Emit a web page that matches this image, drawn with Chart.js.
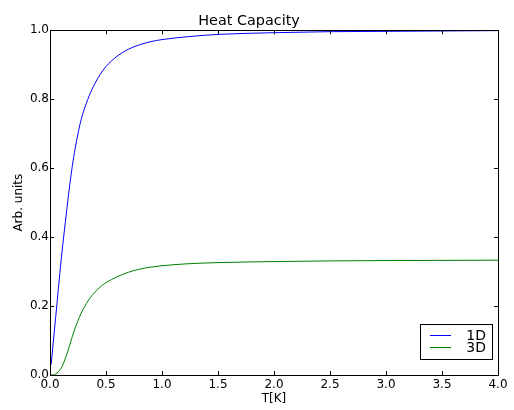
<!DOCTYPE html>
<html>
<head>
<meta charset="utf-8">
<script src="https://cdn.jsdelivr.net/npm/chart.js@4"></script>
<style>
  html, body { margin: 0; padding: 0; background: #ffffff; }
  #wrap { width: 514px; height: 410px; }
</style>
</head>
<body>
<div id="wrap"><canvas id="heatChart" width="514" height="410"></canvas></div>
<script>
// temperatures
const temps = [0.01, 0.05, 0.1, 0.15, 0.175, 0.2, 0.225, 0.25, 0.275, 0.3, 0.35, 0.4, 0.45, 0.5, 0.6, 0.7, 0.8, 0.9, 1.0, 1.25, 1.5, 2.0, 2.5, 3.0, 3.5, 4.0];
const heat1D = [0.03, 0.165, 0.335, 0.48, 0.548, 0.608, 0.658, 0.70, 0.737, 0.765, 0.81, 0.845, 0.873, 0.895, 0.925, 0.945, 0.958, 0.967, 0.973, 0.982, 0.988, 0.993, 0.996, 0.997, 0.998, 0.999];
const heat3D = [0.0, 0.003, 0.02, 0.06, 0.086, 0.112, 0.137, 0.158, 0.177, 0.193, 0.22, 0.24, 0.256, 0.268, 0.285, 0.298, 0.307, 0.313, 0.317, 0.323, 0.326, 0.329, 0.331, 0.332, 0.3325, 0.333];
const seriesNames = ["1D", "3D"];
const seriesColors = ["#0000ff", "#008000"];

const FONT = "'DejaVu Sans', sans-serif";

function pts(ys) {
    return temps.map((t, i) => ({ x: t, y: ys[i] }));
}

// matplotlib-like frame, inward ticks and legend box
const frameTicks = {
    id: "frameTicks",
    afterDraw(chart) {
        const ctx = chart.ctx;
        const a = chart.chartArea;
        const xs = chart.scales.x;
        const ys = chart.scales.y;
        const len = 4;
        ctx.save();
        ctx.strokeStyle = "#000000";
        ctx.lineWidth = 1;
        ctx.beginPath();
        xs.ticks.forEach(t => {
            const px = Math.round(xs.getPixelForValue(t.value)) + 0.5;
            ctx.moveTo(px, a.bottom); ctx.lineTo(px, a.bottom - len);
            ctx.moveTo(px, a.top); ctx.lineTo(px, a.top + len);
        });
        ys.ticks.forEach(t => {
            const py = Math.round(ys.getPixelForValue(t.value)) + 0.5;
            ctx.moveTo(a.left, py); ctx.lineTo(a.left + len, py);
            ctx.moveTo(a.right, py); ctx.lineTo(a.right - len, py);
        });
        ctx.stroke();
        ctx.strokeRect(Math.round(a.left) + 0.5, Math.round(a.top) + 0.5,
            Math.round(a.right - a.left), Math.round(a.bottom - a.top));

        // legend
        const bx = 420.5, by = 324.5, bw = 72, bh = 35;
        ctx.fillStyle = "#ffffff";
        ctx.fillRect(bx, by, bw, bh);
        ctx.strokeRect(bx, by, bw, bh);
        ctx.font = "14px " + FONT;
        ctx.textAlign = "right";
        ctx.textBaseline = "middle";
        chart.data.datasets.forEach((ds, i) => {
            const ly = 335.5 + i * 12;
            ctx.strokeStyle = seriesColors[i];
            ctx.beginPath();
            ctx.moveTo(430, ly); ctx.lineTo(451, ly);
            ctx.stroke();
            ctx.fillStyle = "#000000";
            ctx.fillText(ds.label, 486, ly + 1);
        });
        ctx.restore();
    }
};

new Chart(document.getElementById("heatChart").getContext("2d"), {
    type: "line",
    data: {
        datasets: [
            { label: seriesNames[0], data: pts(heat1D), borderColor: seriesColors[0], borderWidth: 1, pointRadius: 0, cubicInterpolationMode: "monotone", fill: false },
            { label: seriesNames[1], data: pts(heat3D), borderColor: seriesColors[1], borderWidth: 1, pointRadius: 0, cubicInterpolationMode: "monotone", fill: false }
        ]
    },
    options: {
        responsive: false,
        animation: false,
        layout: { padding: { left: 0, right: 16, top: 0, bottom: 0 } },
        plugins: {
            legend: { display: false },
            tooltip: { enabled: false },
            title: {
                display: true,
                text: "Heat Capacity",
                color: "#000000",
                font: { family: FONT, size: 14.4, weight: "normal" },
                padding: { top: 13, bottom: 0 }
            }
        },
        scales: {
            x: {
                type: "linear",
                min: 0,
                max: 4,
                afterFit: s => { s.height = 35; },
                grid: { display: false, drawTicks: false },
                border: { display: false },
                ticks: {
                    stepSize: 0.5,
                    color: "#000000",
                    padding: 3,
                    maxRotation: 0,
                    font: { family: FONT, size: 12 },
                    callback: v => v.toFixed(1)
                },
                title: {
                    display: true,
                    text: "T[K]",
                    color: "#000000",
                    font: { family: FONT, size: 12 },
                    padding: { top: 0, bottom: 4 }
                }
            },
            y: {
                min: 0,
                max: 1,
                afterFit: s => { s.width = 50; },
                grid: { display: false, drawTicks: false },
                border: { display: false },
                ticks: {
                    stepSize: 0.2,
                    color: "#000000",
                    padding: 1,
                    font: { family: FONT, size: 12 },
                    callback: v => v.toFixed(1)
                },
                title: {
                    display: true,
                    text: "Arb. units",
                    color: "#000000",
                    font: { family: FONT, size: 12 },
                    padding: { top: 12, bottom: 0 }
                }
            }
        }
    },
    plugins: [frameTicks]
});
</script>
</body>
</html>
